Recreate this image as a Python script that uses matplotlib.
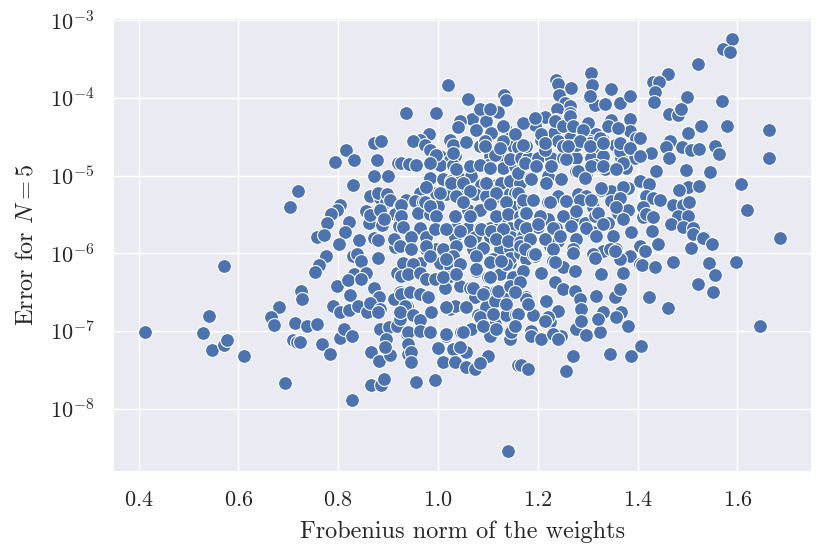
import matplotlib
matplotlib.use("Agg")
import matplotlib.pyplot as plt
import seaborn as sns

# left, sparse part
x_left = [0.412, 0.541, 0.530, 0.547, 0.571, 0.577, 0.571, 0.611, 0.719, 0.703,
          0.726, 0.727, 0.681, 0.666, 0.671, 0.713, 0.737, 0.709, 0.717, 0.693]
y_left = [9.8e-8, 1.55e-7, 9.3e-8, 5.6e-8, 6.6e-8, 7.6e-8, 6.8e-7, 4.8e-8, 6.3e-6, 3.9e-6,
          3.3e-7, 2.6e-7, 2.0e-7, 1.5e-7, 1.2e-7, 1.26e-7, 1.15e-7, 7.7e-8, 7.1e-8, 2.1e-8]

# x between 0.75 and 0.95
x_a = [0.936, 0.872, 0.886, 0.815, 0.794, 0.831, 0.877, 0.919, 0.872, 0.899,
       0.829, 0.864, 0.883, 0.880, 0.895, 0.920, 0.804, 0.797, 0.786, 0.777,
       0.822, 0.814, 0.757, 0.772, 0.801, 0.841, 0.861, 0.856, 0.863, 0.887,
       0.871, 0.879, 0.913, 0.776, 0.762, 0.754, 0.829, 0.837, 0.845, 0.879,
       0.831, 0.856, 0.797, 0.819, 0.846, 0.824, 0.871, 0.881, 0.789, 0.804,
       0.821, 0.839, 0.857, 0.864, 0.884, 0.879, 0.757, 0.724, 0.767, 0.783,
       0.804, 0.811, 0.827, 0.884, 0.901, 0.917, 0.895, 0.866, 0.882, 0.903,
       0.894, 0.866, 0.886, 0.892, 0.827, 0.938, 0.938, 0.940, 0.957, 0.994,
       0.897, 0.904, 0.924, 0.914, 0.924, 0.937, 0.921, 0.911, 0.924, 0.931,
       0.917, 0.924, 0.911, 0.924, 0.884, 0.891]
y_a = [6.3e-5, 2.6e-5, 2.8e-5, 2.1e-5, 1.5e-5, 1.6e-5, 1.6e-5, 1.45e-5, 1.0e-5, 1.0e-5,
       7.6e-6, 5.4e-6, 5.1e-6, 6.0e-6, 4.5e-6, 4.0e-6, 4.2e-6, 3.6e-6, 3.2e-6, 2.45e-6,
       2.5e-6, 1.9e-6, 1.6e-6, 1.7e-6, 1.3e-6, 1.5e-6, 2.45e-6, 3.5e-6, 3.1e-6, 2.3e-6,
       1.55e-6, 1.5e-6, 1.2e-6, 9.3e-7, 7.1e-7, 5.8e-7, 9.3e-7, 9.8e-7, 7.9e-7, 8.7e-7,
       5.4e-7, 5.5e-7, 3.8e-7, 4.5e-7, 4.7e-7, 2.9e-7, 3.6e-7, 2.7e-7, 2.1e-7, 1.75e-7,
       1.85e-7, 2.1e-7, 1.75e-7, 2.25e-7, 1.9e-7, 1.75e-7, 1.23e-7, 7.2e-8, 6.8e-8, 5.1e-8,
       8.1e-8, 1.07e-7, 8.5e-8, 1.07e-7, 1.12e-7, 1.17e-7, 7.9e-8, 5.4e-8, 4.1e-8, 4.9e-8,
       6.2e-8, 2.0e-8, 2.0e-8, 2.4e-8, 1.3e-8, 2.1e-7, 9.0e-8, 5.0e-8, 2.2e-8, 2.3e-8,
       5.8e-6, 4.9e-6, 4.1e-6, 3.2e-6, 2.75e-6, 4.9e-6, 2.24e-6, 1.51e-6, 1.23e-6, 6.9e-7,
       5.6e-7, 3.2e-7, 2.6e-7, 1.41e-7, 3.6e-6, 2.75e-6]

# x between 0.92 and 1.16, upper half
x_b = [1.021, 1.061, 1.132, 1.136, 0.997, 1.082, 1.104, 1.121, 1.069, 1.096,
       1.044, 1.041, 1.077, 1.107, 1.137, 0.983, 0.964, 0.951, 0.974, 0.984,
       1.024, 1.031, 1.057, 1.084, 1.094, 1.147, 1.151, 1.131, 1.004, 0.991,
       1.034, 1.024, 1.111, 1.124, 1.104, 0.927, 0.943, 0.957, 1.004, 1.031,
       1.064, 1.084, 1.101, 1.131, 1.154, 0.984, 1.011, 1.027, 1.047, 1.067,
       1.087, 1.117, 1.141, 1.157, 0.977, 0.964, 0.997, 1.017, 1.041, 1.057,
       1.074, 1.097, 1.124, 1.144, 0.954, 0.971, 0.927, 1.034, 1.061, 1.084,
       1.114, 1.137, 1.154, 0.961, 0.984, 1.001, 0.927, 0.931,
       0.964, 0.994, 1.017, 1.037, 1.061, 1.084, 1.104, 1.121, 1.144,
       0.947, 0.977, 1.034, 1.074, 1.104, 1.147,
       0.947, 0.977, 0.997, 1.011, 1.071, 1.091, 1.124, 1.144,
       0.931, 0.964, 1.004, 1.031, 1.107, 1.127, 1.144]
y_b = [1.48e-4, 9.8e-5, 1.1e-4, 9.5e-5, 6.3e-5, 6.6e-5, 6.6e-5, 6.6e-5, 5.4e-5, 5.1e-5,
       5.0e-5, 4.2e-5, 3.8e-5, 3.5e-5, 3.9e-5, 3.4e-5, 2.9e-5, 2.75e-5, 2.5e-5, 2.1e-5,
       2.9e-5, 2.5e-5, 2.7e-5, 2.4e-5, 2.75e-5, 3.2e-5, 2.4e-5, 2.75e-5, 1.8e-5, 1.6e-5,
       1.8e-5, 1.6e-5, 1.95e-5, 1.85e-5, 1.8e-5, 1.45e-5, 1.4e-5, 1.38e-5, 1.35e-5, 1.35e-5,
       1.35e-5, 1.35e-5, 1.38e-5, 1.26e-5, 1.32e-5, 9.3e-6, 8.9e-6, 8.5e-6, 8.9e-6, 9.8e-6,
       7.6e-6, 7.6e-6, 8.3e-6, 7.9e-6, 6.9e-6, 6.0e-6, 6.0e-6, 5.8e-6, 6.3e-6, 6.0e-6,
       5.8e-6, 5.5e-6, 5.5e-6, 6.0e-6, 4.7e-6, 4.5e-6, 4.2e-6, 3.0e-6, 3.6e-6, 3.5e-6,
       3.0e-6, 3.0e-6, 4.1e-6, 3.3e-6, 3.2e-6, 4.1e-6, 3.0e-6, 2.2e-6,
       2.1e-6, 2.1e-6, 2.1e-6, 2.1e-6, 2.1e-6, 2.1e-6, 2.1e-6, 2.1e-6, 2.1e-6,
       1.6e-6, 1.6e-6, 1.6e-6, 1.6e-6, 1.6e-6, 1.6e-6,
       1.12e-6, 1.12e-6, 1.12e-6, 1.12e-6, 1.12e-6, 1.12e-6, 1.12e-6, 1.12e-6,
       7.4e-7, 7.4e-7, 7.4e-7, 7.4e-7, 7.4e-7, 7.4e-7, 7.4e-7]

# core, x between 0.97 and 1.18, read from a closer look
x_b2 = [0.997, 1.031, 1.114, 1.164, 1.144, 0.984, 1.064, 1.084, 1.037, 1.104,
        1.171, 0.977, 1.027, 1.051, 1.097, 1.127, 1.144, 1.164, 1.004, 1.037,
        1.064, 1.117, 1.154, 0.974, 0.984, 1.051, 1.084, 1.104, 1.137, 1.171,
        0.997, 1.034, 1.064, 1.117, 1.141, 1.164, 0.994, 1.017, 1.044, 1.087,
        1.107, 1.131, 1.164, 1.171, 0.977, 1.011, 1.037, 1.064, 1.091, 1.117,
        1.141, 1.164, 0.984, 1.031, 1.077, 1.111, 1.144, 1.164]
y_b2 = [1.86e-5, 1.95e-5, 1.86e-5, 1.86e-5, 1.62e-5, 1.45e-5, 1.32e-5, 1.38e-5, 1.2e-5, 1.26e-5,
        1.45e-5, 7.2e-6, 8.1e-6, 8.1e-6, 8.1e-6, 8.1e-6, 8.5e-6, 8.1e-6, 6.0e-6, 5.4e-6,
        6.3e-6, 6.0e-6, 6.0e-6, 4.5e-6, 4.1e-6, 4.5e-6, 3.6e-6, 4.3e-6, 4.5e-6, 4.3e-6,
        3.0e-6, 3.0e-6, 3.0e-6, 3.0e-6, 3.2e-6, 3.0e-6, 2.05e-6, 2.05e-6, 1.95e-6, 2.05e-6,
        1.95e-6, 2.05e-6, 2.35e-6, 1.66e-6, 1.23e-6, 1.12e-6, 1.23e-6, 1.45e-6, 1.17e-6, 1.51e-6,
        1.45e-6, 1.38e-6, 9.3e-7, 9.3e-7, 9.3e-7, 8.3e-7, 8.7e-7, 1.0e-6]

# x between 0.92 and 1.16, lower half
x_c = [0.951, 0.927, 0.941, 0.964, 0.977, 1.024, 1.037, 1.021, 0.994, 1.014,
       1.044, 1.077, 1.101, 1.124, 1.137, 1.104, 1.151, 1.064, 1.074, 1.094,
       1.117, 1.137, 1.154, 0.927, 0.944, 0.964, 0.981, 0.934, 0.924, 0.951,
       0.964, 0.987, 1.024, 1.034, 1.057, 1.081, 1.097, 1.114, 1.114, 1.137,
       1.157, 0.941, 0.964, 0.984, 1.017, 1.047, 1.067, 1.091, 1.104, 1.144,
       1.144, 0.941, 0.947, 1.001, 1.031, 1.057, 1.101, 1.044, 0.947, 1.011,
       1.034, 1.057, 1.074, 1.084, 1.161, 1.141,
       1.017, 1.044, 1.077, 1.104, 1.127, 1.151, 1.177, 1.194, 1.231, 1.251,
       1.204, 1.234, 1.011, 1.037, 1.071, 1.091, 1.121, 1.144, 1.177, 1.217,
       1.241, 1.017, 1.057, 1.084, 1.111, 1.137, 1.161, 1.191, 1.224, 1.017,
       1.051, 1.091, 1.117, 1.147, 1.187, 1.231, 1.247]
y_c = [7.2e-7, 5.1e-7, 5.4e-7, 5.6e-7, 4.7e-7, 6.9e-7, 5.6e-7, 4.9e-7, 4.7e-7, 3.6e-7,
       3.8e-7, 5.9e-7, 4.9e-7, 5.4e-7, 7.2e-7, 7.6e-7, 5.1e-7, 3.6e-7, 2.7e-7, 3.2e-7,
       3.3e-7, 2.6e-7, 3.3e-7, 3.0e-7, 3.2e-7, 3.0e-7, 2.7e-7, 2.1e-7, 1.73e-7, 1.58e-7,
       1.36e-7, 1.73e-7, 1.9e-7, 2.1e-7, 2.0e-7, 1.58e-7, 2.0e-7, 2.45e-7, 1.23e-7, 1.58e-7,
       1.66e-7, 9.6e-8, 1.0e-7, 9.6e-8, 8.7e-8, 9.6e-8, 1.07e-7, 1.17e-7, 8.7e-8, 1.0e-7,
       7.9e-8, 6.8e-8, 5.4e-8, 6.0e-8, 5.9e-8, 5.4e-8, 4.8e-8, 6.2e-8, 4.0e-8, 4.0e-8,
       4.0e-8, 3.4e-8, 3.2e-8, 3.8e-8, 3.6e-8, 2.8e-9,
       8.3e-7, 7.2e-7, 6.2e-7, 4.9e-7, 7.9e-7, 4.9e-7, 8.3e-7, 9.3e-7, 7.9e-7, 6.6e-7,
       5.6e-7, 4.2e-7, 4.9e-7, 5.4e-7, 3.6e-7, 3.0e-7, 3.3e-7, 3.8e-7, 2.7e-7, 2.45e-7,
       1.82e-7, 2.0e-7, 2.0e-7, 1.5e-7, 1.66e-7, 2.2e-7, 1.66e-7, 1.58e-7, 1.3e-7, 9.1e-8,
       9.6e-8, 1.17e-7, 1.07e-7, 9.6e-8, 1.0e-7, 9.1e-8, 8.7e-8]

# x between 1.15 and 1.42, upper half
x_d = [1.306, 1.237, 1.241, 1.309, 1.266, 1.346, 1.242, 1.302, 1.314, 1.334,
       1.364, 1.384, 1.254, 1.264, 1.239, 1.264, 1.237, 1.214, 1.194, 1.171,
       1.301, 1.347, 1.384, 1.384,
       1.207, 1.233, 1.264, 1.291, 1.317, 1.331, 1.354, 1.397,
       1.154, 1.161, 1.177, 1.241, 1.259, 1.304, 1.321,
       1.167, 1.181, 1.201, 1.227, 1.251, 1.277, 1.307, 1.331, 1.371, 1.367, 1.394,
       1.161, 1.184, 1.221, 1.247, 1.277, 1.297, 1.314, 1.334, 1.377, 1.404,
       1.161, 1.191, 1.221, 1.241, 1.257, 1.281, 1.297, 1.311, 1.327, 1.347,
       1.367, 1.381, 1.414,
       1.174, 1.201, 1.221, 1.237, 1.274, 1.294, 1.314, 1.341, 1.361, 1.381,
       1.387, 1.411,
       1.164, 1.194, 1.224, 1.241, 1.271, 1.311, 1.331, 1.357, 1.384, 1.404]
y_d = [2.1e-4, 1.7e-4, 1.5e-4, 1.48e-4, 1.32e-4, 1.29e-4, 1.1e-4, 1.02e-4, 8.1e-5, 8.3e-5,
       8.7e-5, 1.05e-4, 8.5e-5, 7.8e-5, 7.1e-5, 6.3e-5, 5.2e-5, 5.6e-5, 4.5e-5, 4.8e-5,
       4.7e-5, 5.2e-5, 5.4e-5, 3.7e-5,
       2.9e-5, 3.5e-5, 3.0e-5, 3.4e-5, 3.4e-5, 2.9e-5, 2.5e-5, 3.0e-5,
       3.4e-5, 2.3e-5, 2.4e-5, 2.75e-5, 2.3e-5, 2.75e-5, 2.1e-5,
       1.7e-5, 1.7e-5, 1.7e-5, 1.7e-5, 1.7e-5, 1.7e-5, 1.7e-5, 1.8e-5, 2.1e-5, 1.7e-5, 1.7e-5,
       1.07e-5, 9.3e-6, 9.8e-6, 8.9e-6, 1.15e-5, 9.8e-6, 1.38e-5, 1.2e-5, 1.26e-5, 8.5e-6,
       6.0e-6, 4.9e-6, 4.5e-6, 5.5e-6, 4.7e-6, 5.8e-6, 5.5e-6, 3.9e-6, 6.6e-6, 6.3e-6,
       5.5e-6, 6.9e-6, 5.5e-6,
       3.3e-6, 2.2e-6, 2.75e-6, 2.1e-6, 3.0e-6, 2.45e-6, 3.0e-6, 2.45e-6, 3.3e-6, 3.6e-6,
       1.86e-6, 2.9e-6,
       1.23e-6, 1.02e-6, 1.23e-6, 1.45e-6, 1.07e-6, 1.86e-6, 1.07e-6, 1.12e-6, 9.3e-7, 1.23e-6]

# core, x between 1.08 and 1.39, read from closer looks
x_d2 = [1.177, 1.214, 1.251, 1.277, 1.304, 1.331, 1.364, 1.371, 1.174, 1.197,
        1.227, 1.257, 1.281, 1.307, 1.331, 1.357, 1.187, 1.217, 1.247, 1.294,
        1.327, 1.371, 1.171, 1.191, 1.224, 1.257, 1.284, 1.307, 1.347, 1.364,
        1.177, 1.204, 1.251, 1.277, 1.321, 1.357, 1.177, 1.201, 1.231, 1.267,
        1.297, 1.331, 1.371, 1.184, 1.214, 1.244, 1.277, 1.317, 1.351, 1.174,
        1.191, 1.231, 1.271, 1.311, 1.344, 1.364,
        1.084, 1.104, 1.304, 1.194, 1.234, 1.251, 1.264, 1.271, 1.291, 1.341,
        1.361, 1.131, 1.207, 1.284, 1.324, 1.364, 1.094, 1.124, 1.171, 1.214,
        1.261, 1.304, 1.331, 1.384]
y_d2 = [2.4e-5, 2.15e-5, 2.4e-5, 2.5e-5, 2.6e-5, 2.6e-5, 2.05e-5, 1.45e-5, 1.45e-5, 1.32e-5,
        1.32e-5, 1.62e-5, 1.15e-5, 1.32e-5, 1.32e-5, 1.2e-5, 8.9e-6, 8.1e-6, 8.9e-6, 9.3e-6,
        6.9e-6, 7.2e-6, 4.9e-6, 4.9e-6, 4.5e-6, 4.7e-6, 4.9e-6, 4.9e-6, 4.7e-6, 5.1e-6,
        3.3e-6, 3.0e-6, 3.0e-6, 3.5e-6, 3.3e-6, 3.9e-6, 2.14e-6, 2.35e-6, 2.14e-6, 2.24e-6,
        2.14e-6, 2.35e-6, 2.75e-6, 1.51e-6, 1.51e-6, 1.66e-6, 1.51e-6, 1.66e-6, 1.66e-6, 1.12e-6,
        9.8e-7, 1.12e-6, 1.12e-6, 9.8e-7, 1.12e-6, 8.3e-7,
        7.1e-5, 7.1e-5, 1.05e-4, 5.5e-5, 5.0e-5, 4.3e-5, 5.8e-5, 4.3e-5, 3.9e-5, 4.3e-5,
        4.1e-5, 4.3e-5, 3.4e-5, 2.75e-5, 3.0e-5, 2.6e-5, 2.4e-5, 2.25e-5, 2.5e-5, 2.6e-5,
        2.4e-5, 2.4e-5, 2.6e-5, 2.25e-5]

# x between 1.15 and 1.42, lower half
x_e = [1.194, 1.234, 1.271, 1.314, 1.354, 1.404, 1.371, 1.327, 1.274, 1.207,
       1.171, 1.164, 1.251, 1.274, 1.284, 1.317, 1.354, 1.364, 1.217, 1.177,
       1.154, 1.181, 1.241, 1.287, 1.331, 1.367, 1.221, 1.161, 1.154, 1.214,
       1.187, 1.207, 1.231, 1.241, 1.277, 1.297, 1.324, 1.287, 1.321, 1.357,
       1.381, 1.407, 1.271, 1.344, 1.386, 1.167, 1.181, 1.257]
y_e = [9.8e-7, 7.6e-7, 1.02e-6, 8.7e-7, 1.07e-6, 7.2e-7, 5.6e-7, 5.4e-7, 5.9e-7, 5.6e-7,
       5.9e-7, 4.2e-7, 3.5e-7, 3.3e-7, 2.6e-7, 2.8e-7, 2.7e-7, 3.5e-7, 2.45e-7, 2.6e-7,
       3.2e-7, 2.2e-7, 1.82e-7, 1.9e-7, 1.73e-7, 1.73e-7, 1.5e-7, 1.66e-7, 1.17e-7, 1.35e-7,
       8.7e-8, 7.9e-8, 9.1e-8, 7.9e-8, 1.07e-7, 8.9e-8, 9.6e-8, 1.35e-7, 1.41e-7, 1.5e-7,
       1.15e-7, 6.5e-8, 4.8e-8, 5.1e-8, 4.8e-8, 3.6e-8, 3.2e-8, 3.0e-8]

# right, sparse part
x_right = [1.589, 1.571, 1.585, 1.522, 1.461, 1.431, 1.443, 1.436, 1.434, 1.499,
           1.569, 1.464, 1.481, 1.487, 1.528, 1.579, 1.664, 1.501, 1.465, 1.457,
           1.489, 1.507, 1.523, 1.556, 1.563, 1.427, 1.404, 1.404, 1.463, 1.664,
           1.437, 1.498, 1.546, 1.607, 1.424, 1.501, 1.524, 1.484, 1.417, 1.432,
           1.446, 1.471, 1.491, 1.504, 1.620, 1.411, 1.417, 1.431, 1.481, 1.501,
           1.467, 1.491, 1.511, 1.429, 1.511, 1.533, 1.686, 1.531, 1.549, 1.507,
           1.441, 1.414, 1.409, 1.435, 1.472, 1.544, 1.555, 1.521, 1.552, 1.597,
           1.424, 1.461, 1.646, 1.407]
y_right = [5.8e-4, 4.3e-4, 3.9e-4, 2.7e-4, 2.0e-4, 1.58e-4, 1.62e-4, 1.2e-4, 8.9e-5, 1.02e-4,
           9.1e-5, 6.2e-5, 6.0e-5, 7.2e-5, 4.3e-5, 4.4e-5, 3.9e-5, 3.5e-5, 2.8e-5, 2.35e-5,
           2.35e-5, 2.1e-5, 2.2e-5, 2.4e-5, 1.9e-5, 1.95e-5, 1.78e-5, 3.0e-5, 1.7e-5, 1.7e-5,
           1.15e-5, 1.17e-5, 1.1e-5, 7.8e-6, 7.8e-6, 7.2e-6, 7.4e-6, 6.5e-6, 5.5e-6, 5.2e-6,
           4.9e-6, 4.2e-6, 4.2e-6, 4.6e-6, 3.6e-6, 3.9e-6, 3.2e-6, 2.9e-6, 3.0e-6, 3.0e-6,
           2.35e-6, 2.2e-6, 2.1e-6, 1.95e-6, 1.74e-6, 1.6e-6, 1.55e-6, 1.55e-6, 1.3e-6, 1.15e-6,
           1.3e-6, 1.07e-6, 7.1e-7, 6.6e-7, 7.8e-7, 7.4e-7, 5.2e-7, 4.0e-7, 3.2e-7, 7.8e-7,
           2.7e-7, 1.95e-7, 1.17e-7, 6.3e-8]

norm = x_left + x_a + x_b + x_b2 + x_c + x_d + x_d2 + x_e + x_right
err = y_left + y_a + y_b + y_b2 + y_c + y_d + y_d2 + y_e + y_right

sns.set_theme(style="darkgrid")
plt.rcParams['font.family'] = 'serif'
plt.rcParams['font.serif'] = ['cmr10', 'DejaVu Serif']
plt.rcParams['mathtext.fontset'] = 'cm'
plt.rcParams['axes.formatter.use_mathtext'] = True

fig = plt.figure(figsize=(8.29, 5.6), dpi=100)
ax = fig.add_axes([0.136, 0.157, 0.8435, 0.811])
sns.scatterplot(x=norm, y=err, ax=ax, s=100, color="#4c72b0",
                edgecolor="white", linewidth=0.8)
ax.set_yscale("log")
ax.set_xlabel("Frobenius norm of the weights", fontsize=17.5, labelpad=8)
ax.set_ylabel("Error for $N = 5$", fontsize=17.5, labelpad=9)
ax.tick_params(labelsize=16, pad=7)
fig.savefig("out.png", dpi=100)
